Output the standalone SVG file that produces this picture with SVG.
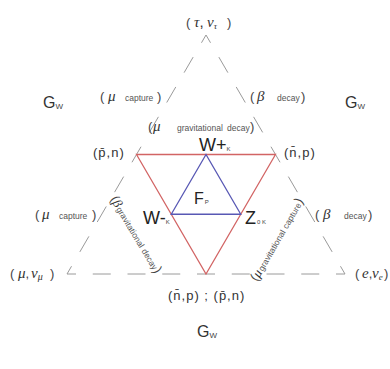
<svg xmlns="http://www.w3.org/2000/svg" width="390" height="369" viewBox="0 0 390 369">
<style>
text{font-family:"Liberation Sans",Arial,sans-serif;fill:#333}
.gr{font-family:"Liberation Serif","DejaVu Serif",serif;font-style:italic;fill:#333}
.sm{font-size:8.5px;fill:#555}
.par{font-size:13px;fill:#444}
.lbl{font-size:13px;letter-spacing:1px;fill:#333}
.big{font-size:18px;fill:#222}
.sub{font-size:6px;fill:#444}
.g{font-size:16px;fill:#333}
.gs{font-size:8px;fill:#444}
.dash{stroke:#9a9a9a;stroke-width:1;fill:none}
.red{stroke:#d26464;stroke-width:1.3;fill:none}
.blue{stroke:#5858b4;stroke-width:1.3;fill:none}
</style>
<rect width="390" height="369" fill="#fff"/>
<g id="connectors">
  <line class="dash" x1="206" y1="35" x2="67" y2="274" stroke-dasharray="18 16.56" stroke-dashoffset="9"/>
  <line class="dash" x1="206" y1="35" x2="345" y2="274" stroke-dasharray="18 16.56" stroke-dashoffset="9"/>
  <line class="dash" x1="67" y1="274" x2="345" y2="274" stroke-dasharray="18 16.75" stroke-dashoffset="9"/>
  <polygon class="red" points="136.5,154.5 275.5,154.5 206,274"/>
  <polygon class="blue" points="206,154.5 171.25,214.25 240.75,214.25"/>
</g>
<g id="n-tau">
  <text x="186" y="27" font-size="15"><tspan class="par" font-size="15">(</tspan><tspan x="194" class="gr">τ</tspan><tspan>,</tspan><tspan x="207" class="gr">ν</tspan><tspan class="gr" font-size="9" dy="2">τ</tspan><tspan x="227" dy="-2" class="par" font-size="15">)</tspan></text>
</g>
<g id="n-gw-left"><text x="43" y="108"><tspan class="g">G</tspan><tspan class="gs" dy="1">W</tspan></text></g>
<g id="n-gw-right"><text x="345" y="108"><tspan class="g">G</tspan><tspan class="gs" dy="1">W</tspan></text></g>
<g id="n-gw-bottom"><text x="197" y="337"><tspan class="g">G</tspan><tspan class="gs" dy="1">W</tspan></text></g>
<g id="l-mu-capture-1">
  <text y="101"><tspan x="100" class="par">(</tspan><tspan x="108" class="gr" font-size="15">μ</tspan><tspan x="125" class="sm">capture</tspan><tspan x="157" class="par">)</tspan></text>
</g>
<g id="l-beta-decay-1">
  <text y="101"><tspan x="250" class="par">(</tspan><tspan x="257" class="gr" font-size="15">β</tspan><tspan x="277" class="sm">decay</tspan><tspan x="301" class="par">)</tspan></text>
</g>
<g id="l-mu-grav-decay">
  <text y="131"><tspan x="148" class="par">(</tspan><tspan x="153" class="gr" font-size="15">μ</tspan><tspan x="177" class="sm">gravitational</tspan><tspan x="227" class="sm">decay</tspan><tspan x="250" class="par">)</tspan></text>
</g>
<g id="n-pbar-n"><text x="93" y="157" class="lbl">(p̄,n)</text></g>
<g id="n-nbar-p"><text x="284" y="157" class="lbl">(n̄,p)</text></g>
<g id="n-wplus"><text x="199" y="151"><tspan class="big">W+</tspan><tspan class="sub">K</tspan></text></g>
<g id="n-fp"><text x="194" y="204"><tspan font-size="16" fill="#222">F</tspan><tspan class="sub" dx="1">P</tspan></text></g>
<g id="n-wminus"><text x="143" y="224"><tspan class="big">W-</tspan><tspan class="sub">K</tspan></text></g>
<g id="n-z0"><text x="245" y="224"><tspan class="big">Z</tspan><tspan class="sub" dx="1">0 K</tspan></text></g>
<g id="l-mu-capture-2">
  <text y="219"><tspan x="35" class="par">(</tspan><tspan x="42" class="gr" font-size="15">μ</tspan><tspan x="59" class="sm" font-size="9">capture</tspan><tspan x="92" class="par">)</tspan></text>
</g>
<g id="l-beta-decay-2">
  <text y="219"><tspan x="315" class="par">(</tspan><tspan x="323" class="gr" font-size="15">β</tspan><tspan x="344" class="sm" font-size="9">decay</tspan><tspan x="368" class="par">)</tspan></text>
</g>
<g id="l-beta-grav-decay">
  <text transform="translate(110,199) rotate(59)"><tspan class="par" font-size="13">(</tspan><tspan class="gr" font-size="13">β</tspan><tspan class="sm" font-size="9" dx="1">gravitational</tspan><tspan class="sm" font-size="9" dx="3">decay</tspan><tspan class="par" font-size="13">)</tspan></text>
</g>
<g id="l-mu-grav-capture">
  <text transform="translate(257,282) rotate(-60)"><tspan class="par" font-size="13">(</tspan><tspan class="gr" font-size="13">μ</tspan><tspan class="sm" font-size="9" dx="1">gravitational</tspan><tspan class="sm" font-size="9" dx="3">capture</tspan><tspan class="par" font-size="13">)</tspan></text>
</g>
<g id="n-mu-numu">
  <text y="278"><tspan x="10" class="par" font-size="14">(</tspan><tspan x="18" class="gr" font-size="15">μ</tspan><tspan class="par" font-size="14">,</tspan><tspan x="31" class="gr" font-size="15">ν</tspan><tspan class="gr" font-size="10" dy="2">μ</tspan><tspan x="50" dy="-2" class="par" font-size="14">)</tspan></text>
</g>
<g id="n-e-nue">
  <text y="278"><tspan x="355" class="par" font-size="14">(</tspan><tspan x="362" class="gr" font-size="15">e</tspan><tspan class="par" font-size="14">,</tspan><tspan x="372" class="gr" font-size="15">ν</tspan><tspan class="gr" font-size="9" dy="2">e</tspan><tspan x="384" dy="-2" class="par" font-size="13">)</tspan></text>
</g>
<g id="n-bottom-pair"><text x="168" y="300" class="lbl">(n̄,p) ; (p̄,n)</text></g>
</svg>
